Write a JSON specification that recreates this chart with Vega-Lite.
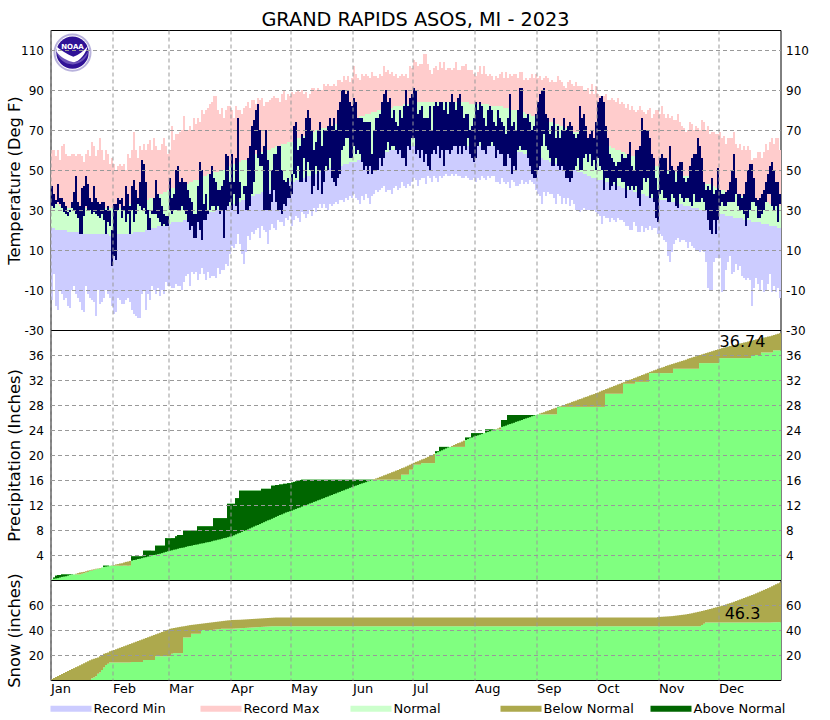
{"$schema":"https://vega.github.io/schema/vega-lite/v6.json","background":"white","padding":{"left":5.5,"top":10,"right":15,"bottom":0},"autosize":{"type":"pad"},
"config":{"view":{"stroke":"black","strokeWidth":1},"font":"DejaVu Sans"},
"bounds":"flush","spacing":0,
"datasets":{"daily":[
{"d":"2023-01-01","rn":-15,"rx":60,"nl":21,"nh":33,"l":32,"h":42,"pn":0.1,"po":0.1,"sn":0.8,"so":0},
{"d":"2023-01-02","rn":-2,"rx":60,"nl":21,"nh":33,"l":31,"h":38,"pn":0.2,"po":0.4,"sn":1.6,"so":0},
{"d":"2023-01-03","rn":-18,"rx":57,"nl":20,"nh":33,"l":33,"h":35,"pn":0.25,"po":0.7,"sn":2.4,"so":0},
{"d":"2023-01-04","rn":-20,"rx":60,"nl":20,"nh":33,"l":34,"h":43,"pn":0.3,"po":0.8,"sn":3.2,"so":0},
{"d":"2023-01-05","rn":-10,"rx":55,"nl":20,"nh":32,"l":33,"h":36,"pn":0.4,"po":0.8,"sn":4,"so":0},
{"d":"2023-01-06","rn":-12,"rx":62,"nl":20,"nh":32,"l":31,"h":36,"pn":0.5,"po":0.9,"sn":4.8,"so":0},
{"d":"2023-01-07","rn":-15,"rx":63,"nl":20,"nh":32,"l":29,"h":34,"pn":0.55,"po":0.9,"sn":5.6,"so":0},
{"d":"2023-01-08","rn":-14,"rx":58,"nl":20,"nh":32,"l":28,"h":32,"pn":0.6,"po":0.9,"sn":6.4,"so":0},
{"d":"2023-01-09","rn":-18,"rx":57,"nl":19,"nh":31,"l":27,"h":29,"pn":0.7,"po":0.9,"sn":7.2,"so":0},
{"d":"2023-01-10","rn":-19,"rx":57,"nl":19,"nh":31,"l":29,"h":30,"pn":0.8,"po":0.9,"sn":8,"so":0},
{"d":"2023-01-11","rn":-10,"rx":58,"nl":19,"nh":31,"l":31,"h":34,"pn":0.85,"po":0.9,"sn":8.8,"so":0},
{"d":"2023-01-12","rn":-8,"rx":58,"nl":19,"nh":31,"l":30,"h":39,"pn":0.9,"po":0.9,"sn":9.5,"so":0},
{"d":"2023-01-13","rn":-12,"rx":57,"nl":19,"nh":31,"l":28,"h":47,"pn":1,"po":0.9,"sn":10.3,"so":0},
{"d":"2023-01-14","rn":-14,"rx":58,"nl":19,"nh":31,"l":26,"h":34,"pn":1.1,"po":0.9,"sn":11,"so":0},
{"d":"2023-01-15","rn":-16,"rx":58,"nl":19,"nh":31,"l":18,"h":32,"pn":1.2,"po":0.9,"sn":11.8,"so":0},
{"d":"2023-01-16","rn":-20,"rx":57,"nl":19,"nh":31,"l":18,"h":41,"pn":1.25,"po":1,"sn":12.6,"so":0},
{"d":"2023-01-17","rn":-21,"rx":54,"nl":18,"nh":31,"l":27,"h":42,"pn":1.3,"po":1.1,"sn":13.4,"so":0},
{"d":"2023-01-18","rn":-8,"rx":58,"nl":18,"nh":31,"l":32,"h":47,"pn":1.4,"po":1.2,"sn":14.2,"so":0},
{"d":"2023-01-19","rn":-12,"rx":60,"nl":18,"nh":31,"l":30,"h":43,"pn":1.5,"po":1.3,"sn":15,"so":0},
{"d":"2023-01-20","rn":-14,"rx":57,"nl":18,"nh":31,"l":30,"h":36,"pn":1.6,"po":1.5,"sn":15.8,"so":0},
{"d":"2023-01-21","rn":-15,"rx":64,"nl":18,"nh":31,"l":28,"h":34,"pn":1.65,"po":1.5,"sn":16.5,"so":1.3},
{"d":"2023-01-22","rn":-16,"rx":62,"nl":18,"nh":31,"l":29,"h":42,"pn":1.7,"po":1.6,"sn":17,"so":2},
{"d":"2023-01-23","rn":-23,"rx":57,"nl":18,"nh":31,"l":28,"h":36,"pn":1.8,"po":1.7,"sn":17.5,"so":3},
{"d":"2023-01-24","rn":-10,"rx":60,"nl":18,"nh":31,"l":27,"h":34,"pn":1.85,"po":1.8,"sn":18,"so":5},
{"d":"2023-01-25","rn":-17,"rx":66,"nl":18,"nh":31,"l":26,"h":33,"pn":1.9,"po":1.8,"sn":19,"so":6},
{"d":"2023-01-26","rn":-16,"rx":60,"nl":18,"nh":31,"l":28,"h":34,"pn":2,"po":2,"sn":20,"so":8},
{"d":"2023-01-27","rn":-14,"rx":55,"nl":18,"nh":31,"l":25,"h":34,"pn":2.1,"po":2.3,"sn":21,"so":10},
{"d":"2023-01-28","rn":-10,"rx":60,"nl":18,"nh":31,"l":18,"h":30,"pn":2.15,"po":2.3,"sn":21.5,"so":12},
{"d":"2023-01-29","rn":-12,"rx":58,"nl":18,"nh":31,"l":24,"h":32,"pn":2.2,"po":2.3,"sn":22,"so":13},
{"d":"2023-01-30","rn":-14,"rx":53,"nl":17,"nh":31,"l":22,"h":30,"pn":2.3,"po":2.3,"sn":23,"so":14},
{"d":"2023-01-31","rn":-18,"rx":56,"nl":17,"nh":31,"l":2,"h":20,"pn":2.35,"po":2.3,"sn":23.5,"so":14},
{"d":"2023-02-01","rn":-22,"rx":53,"nl":17,"nh":31,"l":7,"h":33,"pn":2.4,"po":2.3,"sn":24,"so":14},
{"d":"2023-02-02","rn":-21,"rx":50,"nl":18,"nh":31,"l":5,"h":33,"pn":2.5,"po":2.3,"sn":24.6,"so":14},
{"d":"2023-02-03","rn":-14,"rx":52,"nl":18,"nh":31,"l":30,"h":36,"pn":2.55,"po":2.3,"sn":25.2,"so":14},
{"d":"2023-02-04","rn":-15,"rx":53,"nl":18,"nh":31,"l":33,"h":35,"pn":2.65,"po":2.3,"sn":25.8,"so":14},
{"d":"2023-02-05","rn":-17,"rx":52,"nl":18,"nh":32,"l":26,"h":36,"pn":2.7,"po":2.3,"sn":26.4,"so":14},
{"d":"2023-02-06","rn":-17,"rx":53,"nl":18,"nh":32,"l":30,"h":32,"pn":2.8,"po":2.3,"sn":27,"so":14},
{"d":"2023-02-07","rn":-15,"rx":50,"nl":18,"nh":32,"l":24,"h":42,"pn":2.9,"po":2.3,"sn":27.6,"so":14},
{"d":"2023-02-08","rn":-14,"rx":58,"nl":18,"nh":32,"l":28,"h":38,"pn":2.95,"po":2.3,"sn":28.2,"so":14},
{"d":"2023-02-09","rn":-16,"rx":56,"nl":18,"nh":33,"l":18,"h":32,"pn":3.05,"po":2.3,"sn":28.8,"so":14},
{"d":"2023-02-10","rn":-20,"rx":60,"nl":18,"nh":33,"l":30,"h":42,"pn":3.1,"po":3.8,"sn":29.4,"so":14.4},
{"d":"2023-02-11","rn":-22,"rx":69,"nl":19,"nh":33,"l":24,"h":45,"pn":3.2,"po":3.8,"sn":30,"so":14.4},
{"d":"2023-02-12","rn":-23,"rx":60,"nl":19,"nh":33,"l":28,"h":40,"pn":3.25,"po":3.8,"sn":30.6,"so":14.4},
{"d":"2023-02-13","rn":-24,"rx":56,"nl":19,"nh":34,"l":33,"h":36,"pn":3.35,"po":3.8,"sn":31.2,"so":14.4},
{"d":"2023-02-14","rn":-24,"rx":62,"nl":19,"nh":34,"l":32,"h":44,"pn":3.4,"po":3.8,"sn":31.8,"so":14.4},
{"d":"2023-02-15","rn":-12,"rx":60,"nl":19,"nh":34,"l":30,"h":55,"pn":3.5,"po":3.8,"sn":32.4,"so":14.4},
{"d":"2023-02-16","rn":-10,"rx":63,"nl":19,"nh":35,"l":31,"h":53,"pn":3.6,"po":4.7,"sn":33,"so":16},
{"d":"2023-02-17","rn":-20,"rx":60,"nl":20,"nh":35,"l":28,"h":44,"pn":3.65,"po":4.7,"sn":33.6,"so":16},
{"d":"2023-02-18","rn":-12,"rx":63,"nl":20,"nh":35,"l":20,"h":30,"pn":3.75,"po":4.7,"sn":34.2,"so":16},
{"d":"2023-02-19","rn":-15,"rx":65,"nl":20,"nh":36,"l":20,"h":26,"pn":3.8,"po":4.7,"sn":34.8,"so":16},
{"d":"2023-02-20","rn":-8,"rx":60,"nl":21,"nh":36,"l":28,"h":30,"pn":3.9,"po":4.7,"sn":35.4,"so":16},
{"d":"2023-02-21","rn":-10,"rx":66,"nl":21,"nh":36,"l":28,"h":36,"pn":4,"po":4.7,"sn":36,"so":16},
{"d":"2023-02-22","rn":-12,"rx":62,"nl":21,"nh":37,"l":28,"h":45,"pn":4.05,"po":5.5,"sn":36.6,"so":19},
{"d":"2023-02-23","rn":-9,"rx":60,"nl":22,"nh":37,"l":26,"h":38,"pn":4.15,"po":5.5,"sn":37.2,"so":19},
{"d":"2023-02-24","rn":-13,"rx":60,"nl":22,"nh":38,"l":24,"h":36,"pn":4.2,"po":5.5,"sn":37.8,"so":19},
{"d":"2023-02-25","rn":-10,"rx":63,"nl":22,"nh":38,"l":22,"h":32,"pn":4.3,"po":5.5,"sn":38.4,"so":19},
{"d":"2023-02-26","rn":-12,"rx":66,"nl":22,"nh":39,"l":23,"h":28,"pn":4.4,"po":5.5,"sn":39,"so":19},
{"d":"2023-02-27","rn":-6,"rx":62,"nl":23,"nh":39,"l":22,"h":27,"pn":4.5,"po":6.7,"sn":39.6,"so":19},
{"d":"2023-02-28","rn":-8,"rx":58,"nl":23,"nh":40,"l":22,"h":27,"pn":4.6,"po":6.7,"sn":40.2,"so":19},
{"d":"2023-03-01","rn":-8,"rx":60,"nl":23,"nh":41,"l":30,"h":46,"pn":4.7,"po":6.7,"sn":41,"so":19},
{"d":"2023-03-02","rn":-9,"rx":72,"nl":24,"nh":41,"l":28,"h":36,"pn":4.75,"po":6.7,"sn":41.3,"so":21},
{"d":"2023-03-03","rn":-9,"rx":65,"nl":24,"nh":41,"l":30,"h":38,"pn":4.85,"po":6.7,"sn":41.6,"so":21.5},
{"d":"2023-03-04","rn":-7,"rx":68,"nl":24,"nh":42,"l":30,"h":50,"pn":4.9,"po":7,"sn":41.9,"so":21.5},
{"d":"2023-03-05","rn":-8,"rx":68,"nl":24,"nh":42,"l":30,"h":52,"pn":5,"po":7.2,"sn":42.2,"so":21.5},
{"d":"2023-03-06","rn":-8,"rx":69,"nl":24,"nh":42,"l":30,"h":44,"pn":5.1,"po":7.2,"sn":42.5,"so":21.5},
{"d":"2023-03-07","rn":-10,"rx":70,"nl":24,"nh":42,"l":32,"h":46,"pn":5.15,"po":7.2,"sn":42.8,"so":21.5},
{"d":"2023-03-08","rn":-6,"rx":77,"nl":25,"nh":43,"l":30,"h":44,"pn":5.2,"po":7.9,"sn":43,"so":34},
{"d":"2023-03-09","rn":-3,"rx":70,"nl":25,"nh":43,"l":28,"h":44,"pn":5.3,"po":7.9,"sn":43.3,"so":34},
{"d":"2023-03-10","rn":-2,"rx":70,"nl":25,"nh":43,"l":24,"h":40,"pn":5.4,"po":7.9,"sn":43.6,"so":34},
{"d":"2023-03-11","rn":-8,"rx":72,"nl":26,"nh":44,"l":20,"h":36,"pn":5.45,"po":7.9,"sn":43.9,"so":34},
{"d":"2023-03-12","rn":-1,"rx":70,"nl":26,"nh":44,"l":22,"h":34,"pn":5.5,"po":7.9,"sn":44.1,"so":37},
{"d":"2023-03-13","rn":-2,"rx":76,"nl":26,"nh":45,"l":16,"h":28,"pn":5.6,"po":7.9,"sn":44.3,"so":37},
{"d":"2023-03-14","rn":-1,"rx":73,"nl":27,"nh":45,"l":16,"h":28,"pn":5.65,"po":7.9,"sn":44.5,"so":37},
{"d":"2023-03-15","rn":-5,"rx":76,"nl":27,"nh":45,"l":24,"h":42,"pn":5.7,"po":8.6,"sn":44.7,"so":37},
{"d":"2023-03-16","rn":-2,"rx":74,"nl":27,"nh":46,"l":20,"h":54,"pn":5.8,"po":8.6,"sn":44.9,"so":37},
{"d":"2023-03-17","rn":1,"rx":80,"nl":27,"nh":46,"l":15,"h":50,"pn":5.85,"po":8.6,"sn":45.1,"so":40},
{"d":"2023-03-18","rn":-2,"rx":78,"nl":28,"nh":47,"l":25,"h":33,"pn":5.9,"po":8.6,"sn":45.3,"so":40},
{"d":"2023-03-19","rn":-5,"rx":80,"nl":28,"nh":47,"l":25,"h":38,"pn":6,"po":8.6,"sn":45.5,"so":40},
{"d":"2023-03-20","rn":-1,"rx":81,"nl":28,"nh":48,"l":28,"h":30,"pn":6.05,"po":8.6,"sn":45.7,"so":40},
{"d":"2023-03-21","rn":-4,"rx":83,"nl":29,"nh":48,"l":30,"h":48,"pn":6.1,"po":8.6,"sn":45.9,"so":40},
{"d":"2023-03-22","rn":-3,"rx":84,"nl":29,"nh":48,"l":32,"h":52,"pn":6.2,"po":8.6,"sn":46.1,"so":40},
{"d":"2023-03-23","rn":-3,"rx":87,"nl":29,"nh":49,"l":32,"h":46,"pn":6.3,"po":9.9,"sn":46.3,"so":40.2},
{"d":"2023-03-24","rn":-4,"rx":87,"nl":30,"nh":49,"l":30,"h":44,"pn":6.35,"po":9.9,"sn":46.5,"so":40.4},
{"d":"2023-03-25","rn":1,"rx":80,"nl":30,"nh":49,"l":32,"h":40,"pn":6.45,"po":9.9,"sn":46.7,"so":40.6},
{"d":"2023-03-26","rn":-2,"rx":78,"nl":30,"nh":50,"l":28,"h":40,"pn":6.5,"po":9.9,"sn":46.9,"so":40.8},
{"d":"2023-03-27","rn":0,"rx":81,"nl":31,"nh":50,"l":30,"h":42,"pn":6.6,"po":9.9,"sn":47.1,"so":41},
{"d":"2023-03-28","rn":0,"rx":76,"nl":31,"nh":50,"l":16,"h":45,"pn":6.7,"po":9.9,"sn":47.3,"so":41},
{"d":"2023-03-29","rn":3,"rx":80,"nl":31,"nh":51,"l":30,"h":58,"pn":6.75,"po":9.9,"sn":47.5,"so":41},
{"d":"2023-03-30","rn":2,"rx":82,"nl":32,"nh":51,"l":32,"h":57,"pn":6.85,"po":12.2,"sn":47.7,"so":41},
{"d":"2023-03-31","rn":8,"rx":82,"nl":32,"nh":52,"l":34,"h":44,"pn":6.95,"po":12.2,"sn":47.8,"so":41},
{"d":"2023-04-01","rn":12,"rx":80,"nl":33,"nh":52,"l":30,"h":58,"pn":7,"po":12.2,"sn":48,"so":41},
{"d":"2023-04-02","rn":11,"rx":76,"nl":33,"nh":53,"l":38,"h":44,"pn":7.15,"po":12.2,"sn":48.05,"so":41.1},
{"d":"2023-04-03","rn":13,"rx":82,"nl":34,"nh":53,"l":32,"h":56,"pn":7.3,"po":13.1,"sn":48.1,"so":41.2},
{"d":"2023-04-04","rn":18,"rx":80,"nl":34,"nh":54,"l":28,"h":76,"pn":7.45,"po":13.1,"sn":48.15,"so":41.3},
{"d":"2023-04-05","rn":13,"rx":80,"nl":34,"nh":54,"l":36,"h":44,"pn":7.55,"po":14.3,"sn":48.2,"so":41.4},
{"d":"2023-04-06","rn":8,"rx":78,"nl":35,"nh":55,"l":40,"h":40,"pn":7.7,"po":14.3,"sn":48.3,"so":41.5},
{"d":"2023-04-07","rn":3,"rx":81,"nl":35,"nh":55,"l":38,"h":42,"pn":7.85,"po":14.3,"sn":48.4,"so":41.6},
{"d":"2023-04-08","rn":9,"rx":82,"nl":36,"nh":55,"l":30,"h":42,"pn":7.95,"po":14.3,"sn":48.5,"so":41.7},
{"d":"2023-04-09","rn":17,"rx":84,"nl":36,"nh":56,"l":30,"h":56,"pn":8.1,"po":14.3,"sn":48.6,"so":41.8},
{"d":"2023-04-10","rn":15,"rx":81,"nl":36,"nh":56,"l":32,"h":62,"pn":8.25,"po":14.3,"sn":48.7,"so":41.9},
{"d":"2023-04-11","rn":19,"rx":85,"nl":37,"nh":57,"l":38,"h":72,"pn":8.4,"po":14.3,"sn":48.8,"so":42},
{"d":"2023-04-12","rn":18,"rx":85,"nl":37,"nh":57,"l":44,"h":75,"pn":8.55,"po":14.3,"sn":48.9,"so":42.1},
{"d":"2023-04-13","rn":20,"rx":83,"nl":38,"nh":58,"l":60,"h":80,"pn":8.7,"po":14.3,"sn":49,"so":42.2},
{"d":"2023-04-14","rn":21,"rx":86,"nl":38,"nh":58,"l":56,"h":83,"pn":8.8,"po":14.3,"sn":49.1,"so":42.3},
{"d":"2023-04-15","rn":16,"rx":85,"nl":38,"nh":59,"l":52,"h":70,"pn":8.95,"po":14.3,"sn":49.2,"so":42.4},
{"d":"2023-04-16","rn":22,"rx":86,"nl":39,"nh":59,"l":52,"h":58,"pn":9.1,"po":14.6,"sn":49.3,"so":42.5},
{"d":"2023-04-17","rn":20,"rx":82,"nl":39,"nh":59,"l":30,"h":62,"pn":9.25,"po":14.6,"sn":49.4,"so":42.6},
{"d":"2023-04-18","rn":19,"rx":84,"nl":40,"nh":60,"l":30,"h":70,"pn":9.4,"po":14.6,"sn":49.5,"so":42.7},
{"d":"2023-04-19","rn":13,"rx":84,"nl":40,"nh":60,"l":30,"h":55,"pn":9.55,"po":14.6,"sn":49.6,"so":42.8},
{"d":"2023-04-20","rn":20,"rx":85,"nl":40,"nh":60,"l":30,"h":38,"pn":9.65,"po":14.6,"sn":49.7,"so":42.9},
{"d":"2023-04-21","rn":23,"rx":86,"nl":41,"nh":61,"l":34,"h":50,"pn":9.8,"po":15.1,"sn":49.8,"so":43},
{"d":"2023-04-22","rn":21,"rx":87,"nl":41,"nh":61,"l":40,"h":58,"pn":9.95,"po":15.1,"sn":49.9,"so":43},
{"d":"2023-04-23","rn":20,"rx":86,"nl":41,"nh":62,"l":34,"h":58,"pn":10.1,"po":15.2,"sn":50,"so":43},
{"d":"2023-04-24","rn":25,"rx":86,"nl":42,"nh":62,"l":30,"h":62,"pn":10.25,"po":15.2,"sn":50,"so":43},
{"d":"2023-04-25","rn":24,"rx":84,"nl":42,"nh":62,"l":30,"h":62,"pn":10.4,"po":15.3,"sn":50,"so":43},
{"d":"2023-04-26","rn":24,"rx":88,"nl":42,"nh":63,"l":28,"h":50,"pn":10.5,"po":15.3,"sn":50,"so":43},
{"d":"2023-04-27","rn":22,"rx":90,"nl":43,"nh":63,"l":33,"h":45,"pn":10.65,"po":15.4,"sn":50,"so":43},
{"d":"2023-04-28","rn":26,"rx":85,"nl":43,"nh":63,"l":32,"h":44,"pn":10.8,"po":15.4,"sn":50,"so":43},
{"d":"2023-04-29","rn":25,"rx":88,"nl":43,"nh":64,"l":36,"h":46,"pn":10.9,"po":15.5,"sn":50,"so":43},
{"d":"2023-04-30","rn":27,"rx":87,"nl":44,"nh":64,"l":36,"h":42,"pn":11,"po":15.5,"sn":50,"so":43},
{"d":"2023-05-01","rn":22,"rx":89,"nl":44,"nh":64,"l":38,"h":48,"pn":11.1,"po":15.6,"sn":50,"so":43},
{"d":"2023-05-02","rn":25,"rx":88,"nl":44,"nh":65,"l":48,"h":72,"pn":11.25,"po":15.7,"sn":50,"so":43},
{"d":"2023-05-03","rn":27,"rx":89,"nl":45,"nh":65,"l":46,"h":74,"pn":11.35,"po":15.8,"sn":50,"so":43},
{"d":"2023-05-04","rn":26,"rx":90,"nl":45,"nh":66,"l":52,"h":60,"pn":11.5,"po":15.9,"sn":50,"so":43},
{"d":"2023-05-05","rn":24,"rx":89,"nl":46,"nh":66,"l":44,"h":62,"pn":11.6,"po":16,"sn":50,"so":43},
{"d":"2023-05-06","rn":29,"rx":90,"nl":46,"nh":67,"l":44,"h":68,"pn":11.75,"po":16.05,"sn":50,"so":43},
{"d":"2023-05-07","rn":28,"rx":88,"nl":46,"nh":67,"l":56,"h":66,"pn":11.85,"po":16.05,"sn":50,"so":43},
{"d":"2023-05-08","rn":26,"rx":89,"nl":47,"nh":67,"l":44,"h":76,"pn":12,"po":16.05,"sn":50,"so":43},
{"d":"2023-05-09","rn":28,"rx":86,"nl":47,"nh":68,"l":54,"h":80,"pn":12.1,"po":16.05,"sn":50,"so":43},
{"d":"2023-05-10","rn":30,"rx":88,"nl":47,"nh":68,"l":50,"h":76,"pn":12.25,"po":16.05,"sn":50,"so":43},
{"d":"2023-05-11","rn":27,"rx":91,"nl":48,"nh":69,"l":38,"h":70,"pn":12.35,"po":16.05,"sn":50,"so":43},
{"d":"2023-05-12","rn":31,"rx":91,"nl":48,"nh":69,"l":42,"h":60,"pn":12.5,"po":16.05,"sn":50,"so":43},
{"d":"2023-05-13","rn":29,"rx":90,"nl":48,"nh":70,"l":52,"h":64,"pn":12.6,"po":16.05,"sn":50,"so":43},
{"d":"2023-05-14","rn":31,"rx":91,"nl":49,"nh":70,"l":40,"h":70,"pn":12.75,"po":16.05,"sn":50,"so":43},
{"d":"2023-05-15","rn":33,"rx":90,"nl":49,"nh":70,"l":50,"h":74,"pn":12.85,"po":16.05,"sn":50,"so":43},
{"d":"2023-05-16","rn":31,"rx":90,"nl":49,"nh":71,"l":38,"h":62,"pn":13,"po":16.05,"sn":50,"so":43},
{"d":"2023-05-17","rn":33,"rx":93,"nl":50,"nh":71,"l":44,"h":70,"pn":13.1,"po":16.05,"sn":50,"so":43},
{"d":"2023-05-18","rn":31,"rx":92,"nl":50,"nh":71,"l":52,"h":70,"pn":13.25,"po":16.05,"sn":50,"so":43},
{"d":"2023-05-19","rn":30,"rx":93,"nl":50,"nh":72,"l":50,"h":72,"pn":13.35,"po":16.05,"sn":50,"so":43},
{"d":"2023-05-20","rn":33,"rx":92,"nl":51,"nh":72,"l":56,"h":76,"pn":13.5,"po":16.05,"sn":50,"so":43},
{"d":"2023-05-21","rn":32,"rx":92,"nl":51,"nh":72,"l":46,"h":72,"pn":13.6,"po":16.05,"sn":50,"so":43},
{"d":"2023-05-22","rn":33,"rx":93,"nl":51,"nh":73,"l":44,"h":76,"pn":13.75,"po":16.05,"sn":50,"so":43},
{"d":"2023-05-23","rn":34,"rx":92,"nl":52,"nh":73,"l":42,"h":70,"pn":13.85,"po":16.05,"sn":50,"so":43},
{"d":"2023-05-24","rn":33,"rx":95,"nl":52,"nh":73,"l":46,"h":80,"pn":14,"po":16.05,"sn":50,"so":43},
{"d":"2023-05-25","rn":35,"rx":95,"nl":52,"nh":74,"l":48,"h":84,"pn":14.1,"po":16.05,"sn":50,"so":43},
{"d":"2023-05-26","rn":35,"rx":94,"nl":52,"nh":74,"l":60,"h":90,"pn":14.25,"po":16.05,"sn":50,"so":43},
{"d":"2023-05-27","rn":34,"rx":97,"nl":53,"nh":74,"l":62,"h":90,"pn":14.35,"po":16.05,"sn":50,"so":43},
{"d":"2023-05-28","rn":36,"rx":95,"nl":53,"nh":74,"l":66,"h":88,"pn":14.5,"po":16.05,"sn":50,"so":43},
{"d":"2023-05-29","rn":35,"rx":97,"nl":53,"nh":75,"l":66,"h":90,"pn":14.6,"po":16.05,"sn":50,"so":43},
{"d":"2023-05-30","rn":37,"rx":94,"nl":54,"nh":75,"l":56,"h":84,"pn":14.75,"po":16.05,"sn":50,"so":43},
{"d":"2023-05-31","rn":36,"rx":96,"nl":54,"nh":75,"l":56,"h":82,"pn":14.85,"po":16.05,"sn":50,"so":43},
{"d":"2023-06-01","rn":38,"rx":102,"nl":54,"nh":76,"l":62,"h":86,"pn":15,"po":16.05,"sn":50,"so":43},
{"d":"2023-06-02","rn":36,"rx":98,"nl":54,"nh":76,"l":58,"h":84,"pn":15.1,"po":16.05,"sn":50,"so":43},
{"d":"2023-06-03","rn":35,"rx":96,"nl":55,"nh":76,"l":60,"h":76,"pn":15.2,"po":16.05,"sn":50,"so":43},
{"d":"2023-06-04","rn":33,"rx":95,"nl":55,"nh":77,"l":58,"h":76,"pn":15.35,"po":16.05,"sn":50,"so":43},
{"d":"2023-06-05","rn":37,"rx":98,"nl":55,"nh":77,"l":54,"h":76,"pn":15.45,"po":16.05,"sn":50,"so":43},
{"d":"2023-06-06","rn":35,"rx":97,"nl":56,"nh":77,"l":50,"h":74,"pn":15.55,"po":16.05,"sn":50,"so":43},
{"d":"2023-06-07","rn":38,"rx":98,"nl":56,"nh":78,"l":52,"h":74,"pn":15.65,"po":16.05,"sn":50,"so":43},
{"d":"2023-06-08","rn":36,"rx":97,"nl":56,"nh":78,"l":48,"h":74,"pn":15.8,"po":16.05,"sn":50,"so":43},
{"d":"2023-06-09","rn":33,"rx":96,"nl":57,"nh":78,"l":52,"h":74,"pn":15.9,"po":16.05,"sn":50,"so":43},
{"d":"2023-06-10","rn":37,"rx":99,"nl":57,"nh":79,"l":48,"h":58,"pn":16,"po":16.05,"sn":50,"so":43},
{"d":"2023-06-11","rn":38,"rx":97,"nl":57,"nh":79,"l":50,"h":70,"pn":16.15,"po":16.05,"sn":50,"so":43},
{"d":"2023-06-12","rn":40,"rx":97,"nl":58,"nh":79,"l":50,"h":76,"pn":16.25,"po":16.05,"sn":50,"so":43},
{"d":"2023-06-13","rn":39,"rx":96,"nl":58,"nh":80,"l":50,"h":76,"pn":16.35,"po":16.05,"sn":50,"so":43},
{"d":"2023-06-14","rn":40,"rx":98,"nl":58,"nh":80,"l":56,"h":78,"pn":16.5,"po":16.05,"sn":50,"so":43},
{"d":"2023-06-15","rn":41,"rx":97,"nl":58,"nh":80,"l":52,"h":84,"pn":16.6,"po":16.05,"sn":50,"so":43},
{"d":"2023-06-16","rn":42,"rx":102,"nl":59,"nh":80,"l":56,"h":88,"pn":16.75,"po":16.05,"sn":50,"so":43},
{"d":"2023-06-17","rn":39,"rx":99,"nl":59,"nh":81,"l":60,"h":90,"pn":16.85,"po":16.05,"sn":50,"so":43},
{"d":"2023-06-18","rn":40,"rx":100,"nl":59,"nh":81,"l":64,"h":84,"pn":17,"po":16.05,"sn":50,"so":43},
{"d":"2023-06-19","rn":40,"rx":98,"nl":60,"nh":81,"l":60,"h":86,"pn":17.1,"po":16.05,"sn":50,"so":43},
{"d":"2023-06-20","rn":38,"rx":99,"nl":60,"nh":81,"l":62,"h":76,"pn":17.25,"po":16.05,"sn":50,"so":43},
{"d":"2023-06-21","rn":41,"rx":97,"nl":60,"nh":82,"l":62,"h":80,"pn":17.35,"po":16.05,"sn":50,"so":43},
{"d":"2023-06-22","rn":42,"rx":98,"nl":60,"nh":82,"l":60,"h":74,"pn":17.5,"po":16.05,"sn":50,"so":43},
{"d":"2023-06-23","rn":40,"rx":96,"nl":61,"nh":82,"l":58,"h":72,"pn":17.6,"po":16.05,"sn":50,"so":43},
{"d":"2023-06-24","rn":41,"rx":97,"nl":61,"nh":82,"l":60,"h":80,"pn":17.75,"po":16.05,"sn":50,"so":43},
{"d":"2023-06-25","rn":44,"rx":98,"nl":61,"nh":82,"l":56,"h":76,"pn":17.9,"po":16.85,"sn":50,"so":43},
{"d":"2023-06-26","rn":42,"rx":97,"nl":61,"nh":83,"l":56,"h":82,"pn":18,"po":16.85,"sn":50,"so":43},
{"d":"2023-06-27","rn":41,"rx":98,"nl":62,"nh":83,"l":52,"h":90,"pn":18.15,"po":16.85,"sn":50,"so":43},
{"d":"2023-06-28","rn":43,"rx":96,"nl":62,"nh":83,"l":62,"h":82,"pn":18.3,"po":16.85,"sn":50,"so":43},
{"d":"2023-06-29","rn":42,"rx":102,"nl":62,"nh":83,"l":60,"h":86,"pn":18.45,"po":17.65,"sn":50,"so":43},
{"d":"2023-06-30","rn":44,"rx":101,"nl":62,"nh":83,"l":66,"h":88,"pn":18.6,"po":17.65,"sn":50,"so":43},
{"d":"2023-07-01","rn":46,"rx":105,"nl":62,"nh":83,"l":66,"h":91,"pn":18.75,"po":18.45,"sn":50,"so":43},
{"d":"2023-07-02","rn":45,"rx":104,"nl":62,"nh":83,"l":58,"h":90,"pn":18.9,"po":18.45,"sn":50,"so":43},
{"d":"2023-07-03","rn":42,"rx":102,"nl":62,"nh":84,"l":60,"h":78,"pn":19,"po":18.45,"sn":50,"so":43},
{"d":"2023-07-04","rn":45,"rx":103,"nl":62,"nh":84,"l":56,"h":80,"pn":19.15,"po":18.45,"sn":50,"so":43},
{"d":"2023-07-05","rn":46,"rx":103,"nl":62,"nh":84,"l":60,"h":82,"pn":19.3,"po":18.7,"sn":50,"so":43},
{"d":"2023-07-06","rn":46,"rx":108,"nl":62,"nh":84,"l":54,"h":76,"pn":19.4,"po":18.7,"sn":50,"so":43},
{"d":"2023-07-07","rn":43,"rx":108,"nl":62,"nh":84,"l":58,"h":76,"pn":19.55,"po":18.7,"sn":50,"so":43},
{"d":"2023-07-08","rn":47,"rx":103,"nl":62,"nh":84,"l":52,"h":76,"pn":19.7,"po":18.7,"sn":50,"so":43},
{"d":"2023-07-09","rn":46,"rx":100,"nl":62,"nh":84,"l":50,"h":82,"pn":19.85,"po":18.7,"sn":50,"so":43},
{"d":"2023-07-10","rn":44,"rx":98,"nl":62,"nh":84,"l":58,"h":70,"pn":20,"po":18.7,"sn":50,"so":43},
{"d":"2023-07-11","rn":47,"rx":101,"nl":62,"nh":84,"l":60,"h":82,"pn":20.15,"po":18.7,"sn":50,"so":43},
{"d":"2023-07-12","rn":46,"rx":102,"nl":62,"nh":84,"l":58,"h":84,"pn":20.3,"po":20.6,"sn":50,"so":43},
{"d":"2023-07-13","rn":44,"rx":100,"nl":62,"nh":84,"l":62,"h":82,"pn":20.45,"po":20.6,"sn":50,"so":43},
{"d":"2023-07-14","rn":47,"rx":104,"nl":62,"nh":84,"l":56,"h":84,"pn":20.6,"po":21.3,"sn":50,"so":43},
{"d":"2023-07-15","rn":46,"rx":101,"nl":62,"nh":84,"l":60,"h":84,"pn":20.75,"po":21.3,"sn":50,"so":43},
{"d":"2023-07-16","rn":47,"rx":104,"nl":62,"nh":84,"l":52,"h":80,"pn":20.9,"po":21.3,"sn":50,"so":43},
{"d":"2023-07-17","rn":48,"rx":100,"nl":62,"nh":84,"l":60,"h":84,"pn":21.05,"po":21.3,"sn":50,"so":43},
{"d":"2023-07-18","rn":47,"rx":101,"nl":62,"nh":84,"l":60,"h":78,"pn":21.2,"po":21.3,"sn":50,"so":43},
{"d":"2023-07-19","rn":47,"rx":101,"nl":62,"nh":84,"l":58,"h":84,"pn":21.3,"po":21.3,"sn":50,"so":43},
{"d":"2023-07-20","rn":48,"rx":100,"nl":62,"nh":84,"l":60,"h":88,"pn":21.45,"po":21.3,"sn":50,"so":43},
{"d":"2023-07-21","rn":47,"rx":101,"nl":62,"nh":84,"l":62,"h":84,"pn":21.6,"po":21.3,"sn":50,"so":43},
{"d":"2023-07-22","rn":48,"rx":104,"nl":62,"nh":84,"l":62,"h":80,"pn":21.75,"po":21.3,"sn":50,"so":43},
{"d":"2023-07-23","rn":47,"rx":100,"nl":62,"nh":84,"l":58,"h":86,"pn":21.9,"po":21.3,"sn":50,"so":43},
{"d":"2023-07-24","rn":47,"rx":100,"nl":62,"nh":84,"l":62,"h":88,"pn":22,"po":21.3,"sn":50,"so":43},
{"d":"2023-07-25","rn":46,"rx":102,"nl":62,"nh":84,"l":58,"h":82,"pn":22.15,"po":21.3,"sn":50,"so":43},
{"d":"2023-07-26","rn":46,"rx":102,"nl":62,"nh":84,"l":62,"h":76,"pn":22.3,"po":21.3,"sn":50,"so":43},
{"d":"2023-07-27","rn":47,"rx":103,"nl":62,"nh":84,"l":60,"h":78,"pn":22.4,"po":22.8,"sn":50,"so":43},
{"d":"2023-07-28","rn":46,"rx":100,"nl":62,"nh":84,"l":66,"h":78,"pn":22.55,"po":22.8,"sn":50,"so":43},
{"d":"2023-07-29","rn":45,"rx":100,"nl":62,"nh":83,"l":58,"h":70,"pn":22.7,"po":22.8,"sn":50,"so":43},
{"d":"2023-07-30","rn":45,"rx":100,"nl":62,"nh":83,"l":56,"h":72,"pn":22.8,"po":23.5,"sn":50,"so":43},
{"d":"2023-07-31","rn":46,"rx":98,"nl":62,"nh":83,"l":54,"h":76,"pn":22.95,"po":23.5,"sn":50,"so":43},
{"d":"2023-08-01","rn":44,"rx":97,"nl":62,"nh":83,"l":56,"h":84,"pn":23.05,"po":23.5,"sn":50,"so":43},
{"d":"2023-08-02","rn":46,"rx":99,"nl":62,"nh":83,"l":62,"h":80,"pn":23.15,"po":23.5,"sn":50,"so":43},
{"d":"2023-08-03","rn":45,"rx":102,"nl":62,"nh":83,"l":64,"h":84,"pn":23.25,"po":23.5,"sn":50,"so":43},
{"d":"2023-08-04","rn":47,"rx":98,"nl":62,"nh":83,"l":60,"h":82,"pn":23.35,"po":23.5,"sn":50,"so":43},
{"d":"2023-08-05","rn":46,"rx":102,"nl":62,"nh":83,"l":60,"h":76,"pn":23.5,"po":23.5,"sn":50,"so":43},
{"d":"2023-08-06","rn":45,"rx":98,"nl":62,"nh":83,"l":58,"h":72,"pn":23.6,"po":24.1,"sn":50,"so":43},
{"d":"2023-08-07","rn":47,"rx":97,"nl":62,"nh":83,"l":62,"h":80,"pn":23.7,"po":24.1,"sn":50,"so":43},
{"d":"2023-08-08","rn":46,"rx":98,"nl":62,"nh":82,"l":62,"h":82,"pn":23.8,"po":24.1,"sn":50,"so":43},
{"d":"2023-08-09","rn":47,"rx":97,"nl":62,"nh":82,"l":64,"h":80,"pn":23.95,"po":24.1,"sn":50,"so":43},
{"d":"2023-08-10","rn":47,"rx":95,"nl":62,"nh":82,"l":62,"h":74,"pn":24.05,"po":24.1,"sn":50,"so":43},
{"d":"2023-08-11","rn":44,"rx":97,"nl":61,"nh":82,"l":56,"h":72,"pn":24.15,"po":24.1,"sn":50,"so":43},
{"d":"2023-08-12","rn":44,"rx":96,"nl":61,"nh":82,"l":60,"h":80,"pn":24.25,"po":24.1,"sn":50,"so":43},
{"d":"2023-08-13","rn":43,"rx":98,"nl":61,"nh":82,"l":58,"h":76,"pn":24.4,"po":24.1,"sn":50,"so":43},
{"d":"2023-08-14","rn":46,"rx":99,"nl":61,"nh":82,"l":58,"h":74,"pn":24.5,"po":25.6,"sn":50,"so":43},
{"d":"2023-08-15","rn":44,"rx":96,"nl":61,"nh":81,"l":52,"h":72,"pn":24.6,"po":25.6,"sn":50,"so":43},
{"d":"2023-08-16","rn":43,"rx":99,"nl":60,"nh":81,"l":52,"h":68,"pn":24.7,"po":25.6,"sn":50,"so":43},
{"d":"2023-08-17","rn":44,"rx":96,"nl":60,"nh":81,"l":58,"h":76,"pn":24.85,"po":26.4,"sn":50,"so":43},
{"d":"2023-08-18","rn":41,"rx":98,"nl":60,"nh":81,"l":56,"h":88,"pn":24.95,"po":26.4,"sn":50,"so":43},
{"d":"2023-08-19","rn":45,"rx":97,"nl":60,"nh":80,"l":48,"h":72,"pn":25.05,"po":26.4,"sn":50,"so":43},
{"d":"2023-08-20","rn":44,"rx":98,"nl":60,"nh":80,"l":52,"h":74,"pn":25.15,"po":26.4,"sn":50,"so":43},
{"d":"2023-08-21","rn":42,"rx":98,"nl":59,"nh":80,"l":50,"h":70,"pn":25.3,"po":26.4,"sn":50,"so":43},
{"d":"2023-08-22","rn":42,"rx":96,"nl":59,"nh":79,"l":60,"h":80,"pn":25.4,"po":26.4,"sn":50,"so":43},
{"d":"2023-08-23","rn":43,"rx":99,"nl":59,"nh":79,"l":62,"h":91,"pn":25.5,"po":26.4,"sn":50,"so":43},
{"d":"2023-08-24","rn":45,"rx":99,"nl":59,"nh":79,"l":60,"h":91,"pn":25.6,"po":26.4,"sn":50,"so":43},
{"d":"2023-08-25","rn":43,"rx":95,"nl":58,"nh":79,"l":60,"h":76,"pn":25.75,"po":26.4,"sn":50,"so":43},
{"d":"2023-08-26","rn":44,"rx":96,"nl":58,"nh":78,"l":60,"h":76,"pn":25.85,"po":26.4,"sn":50,"so":43},
{"d":"2023-08-27","rn":43,"rx":95,"nl":58,"nh":78,"l":56,"h":78,"pn":25.95,"po":26.4,"sn":50,"so":43},
{"d":"2023-08-28","rn":45,"rx":96,"nl":58,"nh":78,"l":52,"h":74,"pn":26.05,"po":26.4,"sn":50,"so":43},
{"d":"2023-08-29","rn":44,"rx":98,"nl":57,"nh":77,"l":48,"h":70,"pn":26.2,"po":26.4,"sn":50,"so":43},
{"d":"2023-08-30","rn":43,"rx":96,"nl":57,"nh":77,"l":46,"h":72,"pn":26.3,"po":26.4,"sn":50,"so":43},
{"d":"2023-08-31","rn":40,"rx":98,"nl":57,"nh":77,"l":46,"h":78,"pn":26.4,"po":26.4,"sn":50,"so":43},
{"d":"2023-09-01","rn":38,"rx":96,"nl":57,"nh":76,"l":50,"h":84,"pn":26.5,"po":26.5,"sn":50,"so":43},
{"d":"2023-09-02","rn":37,"rx":97,"nl":56,"nh":76,"l":52,"h":88,"pn":26.65,"po":26.5,"sn":50,"so":43},
{"d":"2023-09-03","rn":33,"rx":95,"nl":56,"nh":76,"l":62,"h":90,"pn":26.75,"po":26.5,"sn":50,"so":43},
{"d":"2023-09-04","rn":39,"rx":96,"nl":55,"nh":75,"l":68,"h":91,"pn":26.85,"po":26.5,"sn":50,"so":43},
{"d":"2023-09-05","rn":37,"rx":97,"nl":55,"nh":75,"l":62,"h":78,"pn":27,"po":26.5,"sn":50,"so":43},
{"d":"2023-09-06","rn":39,"rx":96,"nl":55,"nh":74,"l":60,"h":76,"pn":27.1,"po":26.5,"sn":50,"so":43},
{"d":"2023-09-07","rn":38,"rx":94,"nl":54,"nh":74,"l":56,"h":68,"pn":27.2,"po":26.5,"sn":50,"so":43},
{"d":"2023-09-08","rn":38,"rx":95,"nl":54,"nh":74,"l":52,"h":72,"pn":27.35,"po":26.5,"sn":50,"so":43},
{"d":"2023-09-09","rn":36,"rx":94,"nl":54,"nh":73,"l":52,"h":76,"pn":27.45,"po":26.5,"sn":50,"so":43},
{"d":"2023-09-10","rn":33,"rx":94,"nl":53,"nh":73,"l":56,"h":66,"pn":27.55,"po":26.5,"sn":50,"so":43},
{"d":"2023-09-11","rn":38,"rx":97,"nl":53,"nh":73,"l":52,"h":72,"pn":27.65,"po":27.7,"sn":50,"so":43},
{"d":"2023-09-12","rn":37,"rx":95,"nl":53,"nh":72,"l":50,"h":66,"pn":27.8,"po":27.7,"sn":50,"so":43},
{"d":"2023-09-13","rn":33,"rx":94,"nl":52,"nh":72,"l":52,"h":70,"pn":27.9,"po":27.7,"sn":50,"so":43},
{"d":"2023-09-14","rn":36,"rx":92,"nl":52,"nh":71,"l":50,"h":76,"pn":28,"po":27.7,"sn":50,"so":43},
{"d":"2023-09-15","rn":33,"rx":91,"nl":52,"nh":71,"l":46,"h":70,"pn":28.15,"po":27.7,"sn":50,"so":43},
{"d":"2023-09-16","rn":36,"rx":94,"nl":51,"nh":71,"l":46,"h":72,"pn":28.25,"po":27.7,"sn":50,"so":43},
{"d":"2023-09-17","rn":32,"rx":95,"nl":51,"nh":70,"l":44,"h":74,"pn":28.35,"po":27.7,"sn":50,"so":43},
{"d":"2023-09-18","rn":35,"rx":93,"nl":50,"nh":70,"l":46,"h":72,"pn":28.5,"po":27.7,"sn":50,"so":43},
{"d":"2023-09-19","rn":33,"rx":92,"nl":50,"nh":69,"l":50,"h":68,"pn":28.6,"po":27.7,"sn":50,"so":43},
{"d":"2023-09-20","rn":30,"rx":94,"nl":50,"nh":69,"l":52,"h":66,"pn":28.7,"po":27.7,"sn":50,"so":43},
{"d":"2023-09-21","rn":30,"rx":92,"nl":49,"nh":69,"l":56,"h":68,"pn":28.85,"po":27.7,"sn":50,"so":43},
{"d":"2023-09-22","rn":29,"rx":92,"nl":49,"nh":68,"l":50,"h":82,"pn":28.95,"po":27.7,"sn":50,"so":43},
{"d":"2023-09-23","rn":30,"rx":92,"nl":49,"nh":68,"l":50,"h":76,"pn":29.05,"po":27.7,"sn":50,"so":43},
{"d":"2023-09-24","rn":31,"rx":90,"nl":48,"nh":67,"l":56,"h":78,"pn":29.2,"po":27.7,"sn":50,"so":43},
{"d":"2023-09-25","rn":30,"rx":90,"nl":48,"nh":67,"l":58,"h":72,"pn":29.3,"po":27.7,"sn":50,"so":43},
{"d":"2023-09-26","rn":30,"rx":91,"nl":47,"nh":66,"l":54,"h":66,"pn":29.4,"po":27.7,"sn":50,"so":43},
{"d":"2023-09-27","rn":30,"rx":88,"nl":47,"nh":66,"l":58,"h":68,"pn":29.55,"po":27.7,"sn":50,"so":43},
{"d":"2023-09-28","rn":30,"rx":93,"nl":46,"nh":65,"l":52,"h":70,"pn":29.65,"po":27.7,"sn":50,"so":43},
{"d":"2023-09-29","rn":30,"rx":88,"nl":46,"nh":65,"l":55,"h":66,"pn":29.75,"po":27.7,"sn":50,"so":43},
{"d":"2023-09-30","rn":29,"rx":92,"nl":46,"nh":64,"l":50,"h":74,"pn":29.9,"po":27.7,"sn":50,"so":43},
{"d":"2023-10-01","rn":28,"rx":88,"nl":45,"nh":64,"l":56,"h":84,"pn":30,"po":27.7,"sn":50,"so":43},
{"d":"2023-10-02","rn":27,"rx":87,"nl":45,"nh":64,"l":52,"h":86,"pn":30.15,"po":27.7,"sn":50,"so":43},
{"d":"2023-10-03","rn":23,"rx":87,"nl":45,"nh":63,"l":50,"h":87,"pn":30.3,"po":27.7,"sn":50,"so":43},
{"d":"2023-10-04","rn":27,"rx":87,"nl":44,"nh":63,"l":40,"h":84,"pn":30.4,"po":27.7,"sn":50,"so":43},
{"d":"2023-10-05","rn":26,"rx":88,"nl":44,"nh":62,"l":46,"h":72,"pn":30.55,"po":29.8,"sn":50,"so":43},
{"d":"2023-10-06","rn":26,"rx":85,"nl":44,"nh":62,"l":46,"h":66,"pn":30.65,"po":29.8,"sn":50,"so":43},
{"d":"2023-10-07","rn":24,"rx":85,"nl":43,"nh":62,"l":40,"h":58,"pn":30.8,"po":29.8,"sn":50,"so":43},
{"d":"2023-10-08","rn":26,"rx":86,"nl":43,"nh":61,"l":42,"h":56,"pn":30.9,"po":29.8,"sn":50,"so":43},
{"d":"2023-10-09","rn":25,"rx":85,"nl":43,"nh":61,"l":44,"h":54,"pn":31.05,"po":29.8,"sn":50,"so":43},
{"d":"2023-10-10","rn":24,"rx":84,"nl":42,"nh":60,"l":40,"h":52,"pn":31.15,"po":29.8,"sn":50,"so":43},
{"d":"2023-10-11","rn":26,"rx":86,"nl":42,"nh":60,"l":46,"h":54,"pn":31.3,"po":29.8,"sn":50,"so":43},
{"d":"2023-10-12","rn":25,"rx":83,"nl":42,"nh":60,"l":46,"h":54,"pn":31.4,"po":29.8,"sn":50,"so":43},
{"d":"2023-10-13","rn":25,"rx":84,"nl":41,"nh":59,"l":44,"h":58,"pn":31.55,"po":29.8,"sn":50,"so":43},
{"d":"2023-10-14","rn":24,"rx":83,"nl":41,"nh":59,"l":44,"h":56,"pn":31.65,"po":31.4,"sn":50,"so":43},
{"d":"2023-10-15","rn":22,"rx":81,"nl":41,"nh":58,"l":36,"h":56,"pn":31.8,"po":31.4,"sn":50,"so":43},
{"d":"2023-10-16","rn":22,"rx":83,"nl":40,"nh":58,"l":42,"h":58,"pn":31.9,"po":31.4,"sn":50,"so":43},
{"d":"2023-10-17","rn":20,"rx":80,"nl":40,"nh":58,"l":40,"h":64,"pn":32.05,"po":31.4,"sn":50,"so":43},
{"d":"2023-10-18","rn":20,"rx":82,"nl":40,"nh":57,"l":42,"h":52,"pn":32.15,"po":31.4,"sn":50,"so":43},
{"d":"2023-10-19","rn":24,"rx":80,"nl":39,"nh":57,"l":40,"h":50,"pn":32.3,"po":31.4,"sn":50,"so":43},
{"d":"2023-10-20","rn":22,"rx":79,"nl":39,"nh":56,"l":42,"h":60,"pn":32.4,"po":31.7,"sn":50,"so":43},
{"d":"2023-10-21","rn":19,"rx":80,"nl":39,"nh":56,"l":36,"h":60,"pn":32.55,"po":31.7,"sn":50,"so":43},
{"d":"2023-10-22","rn":19,"rx":82,"nl":38,"nh":56,"l":32,"h":62,"pn":32.65,"po":31.7,"sn":50,"so":43},
{"d":"2023-10-23","rn":22,"rx":80,"nl":38,"nh":55,"l":40,"h":76,"pn":32.8,"po":31.7,"sn":50,"so":43},
{"d":"2023-10-24","rn":19,"rx":79,"nl":38,"nh":55,"l":46,"h":70,"pn":32.9,"po":31.7,"sn":50,"so":43},
{"d":"2023-10-25","rn":21,"rx":78,"nl":37,"nh":54,"l":44,"h":70,"pn":33.05,"po":31.7,"sn":50,"so":43},
{"d":"2023-10-26","rn":20,"rx":80,"nl":37,"nh":54,"l":46,"h":70,"pn":33.15,"po":31.7,"sn":50,"so":43},
{"d":"2023-10-27","rn":22,"rx":81,"nl":37,"nh":53,"l":36,"h":66,"pn":33.3,"po":33.1,"sn":50,"so":43},
{"d":"2023-10-28","rn":20,"rx":76,"nl":36,"nh":53,"l":38,"h":58,"pn":33.4,"po":33.1,"sn":50,"so":43},
{"d":"2023-10-29","rn":21,"rx":78,"nl":36,"nh":53,"l":34,"h":56,"pn":33.55,"po":33.1,"sn":50,"so":43},
{"d":"2023-10-30","rn":21,"rx":80,"nl":36,"nh":52,"l":26,"h":46,"pn":33.65,"po":33.1,"sn":50,"so":43},
{"d":"2023-10-31","rn":18,"rx":80,"nl":36,"nh":52,"l":24,"h":40,"pn":33.8,"po":33.1,"sn":50.3,"so":43},
{"d":"2023-11-01","rn":18,"rx":78,"nl":35,"nh":52,"l":38,"h":56,"pn":33.9,"po":33.1,"sn":50.5,"so":43},
{"d":"2023-11-02","rn":17,"rx":82,"nl":35,"nh":51,"l":40,"h":58,"pn":34,"po":33.1,"sn":50.6,"so":43},
{"d":"2023-11-03","rn":15,"rx":78,"nl":35,"nh":51,"l":36,"h":56,"pn":34.1,"po":33.1,"sn":50.7,"so":43},
{"d":"2023-11-04","rn":14,"rx":76,"nl":35,"nh":50,"l":36,"h":56,"pn":34.25,"po":33.1,"sn":50.8,"so":43},
{"d":"2023-11-05","rn":7,"rx":78,"nl":34,"nh":50,"l":34,"h":48,"pn":34.35,"po":33.1,"sn":50.9,"so":43},
{"d":"2023-11-06","rn":4,"rx":76,"nl":34,"nh":50,"l":34,"h":62,"pn":34.45,"po":33.1,"sn":51,"so":43},
{"d":"2023-11-07","rn":9,"rx":77,"nl":34,"nh":49,"l":38,"h":52,"pn":34.55,"po":33.1,"sn":51.1,"so":43},
{"d":"2023-11-08","rn":13,"rx":75,"nl":34,"nh":49,"l":36,"h":50,"pn":34.65,"po":33.8,"sn":51.3,"so":43},
{"d":"2023-11-09","rn":15,"rx":75,"nl":33,"nh":49,"l":32,"h":44,"pn":34.75,"po":33.8,"sn":51.5,"so":43},
{"d":"2023-11-10","rn":16,"rx":78,"nl":33,"nh":48,"l":31,"h":52,"pn":34.85,"po":33.8,"sn":51.7,"so":43},
{"d":"2023-11-11","rn":14,"rx":74,"nl":33,"nh":48,"l":38,"h":54,"pn":34.95,"po":33.8,"sn":51.9,"so":43},
{"d":"2023-11-12","rn":15,"rx":72,"nl":33,"nh":48,"l":36,"h":54,"pn":35.05,"po":33.8,"sn":52.1,"so":43},
{"d":"2023-11-13","rn":15,"rx":71,"nl":32,"nh":47,"l":34,"h":46,"pn":35.15,"po":33.8,"sn":52.3,"so":43},
{"d":"2023-11-14","rn":14,"rx":69,"nl":32,"nh":47,"l":36,"h":44,"pn":35.25,"po":33.8,"sn":52.5,"so":43},
{"d":"2023-11-15","rn":11,"rx":70,"nl":32,"nh":47,"l":36,"h":46,"pn":35.4,"po":33.8,"sn":52.8,"so":43},
{"d":"2023-11-16","rn":14,"rx":74,"nl":32,"nh":46,"l":34,"h":52,"pn":35.5,"po":33.8,"sn":53.1,"so":43},
{"d":"2023-11-17","rn":12,"rx":73,"nl":31,"nh":46,"l":32,"h":56,"pn":35.6,"po":33.8,"sn":53.4,"so":43},
{"d":"2023-11-18","rn":11,"rx":70,"nl":31,"nh":46,"l":38,"h":58,"pn":35.7,"po":33.8,"sn":53.8,"so":43},
{"d":"2023-11-19","rn":10,"rx":72,"nl":31,"nh":45,"l":34,"h":58,"pn":35.8,"po":33.8,"sn":54.1,"so":43},
{"d":"2023-11-20","rn":10,"rx":71,"nl":31,"nh":45,"l":34,"h":66,"pn":35.9,"po":33.8,"sn":54.5,"so":43},
{"d":"2023-11-21","rn":9,"rx":70,"nl":30,"nh":44,"l":34,"h":62,"pn":36,"po":34.7,"sn":54.8,"so":43},
{"d":"2023-11-22","rn":10,"rx":75,"nl":30,"nh":44,"l":36,"h":56,"pn":36.1,"po":34.7,"sn":55.2,"so":44},
{"d":"2023-11-23","rn":9,"rx":74,"nl":30,"nh":44,"l":34,"h":44,"pn":36.2,"po":34.7,"sn":55.6,"so":45},
{"d":"2023-11-24","rn":4,"rx":70,"nl":30,"nh":43,"l":30,"h":40,"pn":36.3,"po":34.7,"sn":56,"so":46},
{"d":"2023-11-25","rn":-9,"rx":72,"nl":30,"nh":43,"l":25,"h":42,"pn":36.4,"po":34.7,"sn":56.4,"so":46},
{"d":"2023-11-26","rn":-10,"rx":68,"nl":29,"nh":43,"l":20,"h":40,"pn":36.5,"po":34.7,"sn":56.8,"so":46},
{"d":"2023-11-27","rn":-10,"rx":69,"nl":29,"nh":42,"l":18,"h":46,"pn":36.6,"po":34.7,"sn":57.2,"so":46},
{"d":"2023-11-28","rn":4,"rx":69,"nl":29,"nh":42,"l":25,"h":38,"pn":36.7,"po":34.7,"sn":57.7,"so":46},
{"d":"2023-11-29","rn":6,"rx":68,"nl":28,"nh":41,"l":18,"h":40,"pn":36.8,"po":34.7,"sn":58.1,"so":46},
{"d":"2023-11-30","rn":6,"rx":68,"nl":28,"nh":41,"l":25,"h":51,"pn":36.9,"po":34.7,"sn":58.6,"so":46},
{"d":"2023-12-01","rn":6,"rx":69,"nl":28,"nh":40,"l":32,"h":40,"pn":37,"po":35.5,"sn":59,"so":46},
{"d":"2023-12-02","rn":-11,"rx":66,"nl":28,"nh":40,"l":34,"h":38,"pn":37.1,"po":35.5,"sn":59.5,"so":46},
{"d":"2023-12-03","rn":-10,"rx":67,"nl":28,"nh":40,"l":32,"h":38,"pn":37.2,"po":35.5,"sn":60,"so":46},
{"d":"2023-12-04","rn":0,"rx":63,"nl":27,"nh":39,"l":32,"h":39,"pn":37.25,"po":35.5,"sn":60.5,"so":46},
{"d":"2023-12-05","rn":4,"rx":66,"nl":27,"nh":39,"l":34,"h":40,"pn":37.35,"po":35.5,"sn":61,"so":46},
{"d":"2023-12-06","rn":7,"rx":66,"nl":27,"nh":39,"l":34,"h":44,"pn":37.45,"po":35.5,"sn":61.5,"so":46},
{"d":"2023-12-07","rn":-2,"rx":66,"nl":27,"nh":38,"l":34,"h":50,"pn":37.5,"po":35.5,"sn":62,"so":46},
{"d":"2023-12-08","rn":-1,"rx":69,"nl":26,"nh":38,"l":34,"h":58,"pn":37.6,"po":35.5,"sn":62.6,"so":46},
{"d":"2023-12-09","rn":3,"rx":63,"nl":26,"nh":38,"l":38,"h":46,"pn":37.7,"po":35.5,"sn":63.2,"so":46},
{"d":"2023-12-10","rn":0,"rx":61,"nl":26,"nh":37,"l":32,"h":38,"pn":37.75,"po":35.5,"sn":63.8,"so":46},
{"d":"2023-12-11","rn":2,"rx":63,"nl":26,"nh":37,"l":30,"h":38,"pn":37.85,"po":35.5,"sn":64.4,"so":46},
{"d":"2023-12-12","rn":-3,"rx":60,"nl":26,"nh":37,"l":30,"h":36,"pn":37.9,"po":35.5,"sn":65,"so":46},
{"d":"2023-12-13","rn":-4,"rx":62,"nl":25,"nh":36,"l":28,"h":38,"pn":38,"po":35.5,"sn":65.6,"so":46},
{"d":"2023-12-14","rn":-5,"rx":60,"nl":25,"nh":36,"l":22,"h":44,"pn":38.05,"po":35.5,"sn":66.2,"so":46},
{"d":"2023-12-15","rn":-4,"rx":62,"nl":25,"nh":36,"l":26,"h":50,"pn":38.15,"po":35.5,"sn":66.8,"so":46},
{"d":"2023-12-16","rn":-5,"rx":60,"nl":25,"nh":36,"l":30,"h":53,"pn":38.25,"po":35.5,"sn":67.4,"so":46},
{"d":"2023-12-17","rn":-18,"rx":55,"nl":24,"nh":36,"l":34,"h":53,"pn":38.3,"po":36,"sn":68,"so":46},
{"d":"2023-12-18","rn":-9,"rx":56,"nl":24,"nh":35,"l":34,"h":46,"pn":38.4,"po":36,"sn":68.6,"so":46},
{"d":"2023-12-19","rn":-4,"rx":56,"nl":24,"nh":35,"l":32,"h":36,"pn":38.5,"po":36,"sn":69.3,"so":46},
{"d":"2023-12-20","rn":-7,"rx":59,"nl":24,"nh":35,"l":26,"h":35,"pn":38.55,"po":36,"sn":70,"so":46},
{"d":"2023-12-21","rn":-10,"rx":59,"nl":24,"nh":35,"l":26,"h":36,"pn":38.65,"po":36,"sn":70.7,"so":46},
{"d":"2023-12-22","rn":-5,"rx":56,"nl":23,"nh":34,"l":28,"h":38,"pn":38.7,"po":36.4,"sn":71.4,"so":46},
{"d":"2023-12-23","rn":-11,"rx":59,"nl":23,"nh":34,"l":30,"h":40,"pn":38.8,"po":36.4,"sn":72.1,"so":46},
{"d":"2023-12-24","rn":-10,"rx":63,"nl":23,"nh":34,"l":34,"h":44,"pn":38.85,"po":36.4,"sn":72.8,"so":46},
{"d":"2023-12-25","rn":-7,"rx":60,"nl":23,"nh":34,"l":38,"h":48,"pn":38.95,"po":36.4,"sn":73.5,"so":46},
{"d":"2023-12-26","rn":-2,"rx":64,"nl":22,"nh":33,"l":38,"h":52,"pn":39,"po":36.4,"sn":74.2,"so":46},
{"d":"2023-12-27","rn":-11,"rx":66,"nl":22,"nh":33,"l":32,"h":54,"pn":39.1,"po":36.4,"sn":75,"so":46.1},
{"d":"2023-12-28","rn":-8,"rx":63,"nl":22,"nh":33,"l":30,"h":50,"pn":39.2,"po":36.74,"sn":75.8,"so":46.2},
{"d":"2023-12-29","rn":-11,"rx":66,"nl":22,"nh":33,"l":32,"h":44,"pn":39.3,"po":36.74,"sn":76.6,"so":46.2},
{"d":"2023-12-30","rn":-9,"rx":66,"nl":21,"nh":32,"l":24,"h":44,"pn":39.4,"po":36.74,"sn":77.3,"so":46.3},
{"d":"2023-12-31","rn":-14,"rx":60,"nl":21,"nh":32,"l":33,"h":38,"pn":39.5,"po":36.74,"sn":78,"so":46.3}
]},
"vconcat":[
{"width":730,"height":300,"data":{"name":"daily"},
"title":{"text":"GRAND RAPIDS ASOS, MI - 2023","fontSize":19.3,"font":"DejaVu Sans","fontWeight":"normal","color":"black","anchor":"middle","offset":0},
"encoding":{"x":{"field":"d","type":"temporal","timeUnit":"utcyearmonthdate","title":null,"scale":{"type":"utc","domain":[{"year":2023,"month":1,"date":1,"utc":true},{"year":2023,"month":12,"date":31,"hours":23,"minutes":59,"utc":true}]},"axis":{"tickCount":"month","labels":false,"ticks":false,"domain":false,"grid":true,"gridColor":"#999999","gridDash":[4,3],"zindex":1}}},
"resolve":{"axis":{"y":"independent"}},
"layer":[
{"mark":{"type":"bar","binSpacing":0,"width":{"band":1},"color":"#CCCCFF"},"encoding":{"y":{"field":"rn","type":"quantitative","title":"Temperature (Deg F)","scale":{"domain":[-30,120],"nice":false},"axis":{"values":[-30,-10,10,30,50,70,90,110],"labelExpr":"datum.value+''","ticks":false,"domain":false,"grid":true,"gridColor":"#999999","gridDash":[4,3],"labelFontSize":12,"labelColor":"black","labelPadding":7,"titleFontSize":16.3,"titleFontWeight":"normal","titleColor":"black","titleX":-28,"zindex":1}},"y2":{"field":"nl"}}},
{"mark":{"type":"bar","binSpacing":0,"width":{"band":1},"color":"#CCFFCC"},"encoding":{"y":{"field":"nl","type":"quantitative","scale":{"domain":[-30,120],"nice":false},"axis":{"orient":"right","values":[-30,-10,10,30,50,70,90,110],"labelExpr":"datum.value+''","ticks":false,"domain":false,"grid":false,"labelFontSize":12,"labelColor":"black","labelPadding":5,"title":null,"zindex":1}},"y2":{"field":"nh"}}},
{"mark":{"type":"bar","binSpacing":0,"width":{"band":1},"color":"#FFCCCC"},"encoding":{"y":{"field":"nh","type":"quantitative","axis":null},"y2":{"field":"rx"}}},
{"mark":{"type":"bar","binSpacing":0,"width":{"band":1},"color":"#000066"},"encoding":{"y":{"field":"l","type":"quantitative","axis":null},"y2":{"field":"h"}}},
{"data":{"values":[{"d":"2023-01-12","t":108.7}]},"mark":{"type":"point","shape":"circle","filled":true,"fill":"white","stroke":"#b8b2dc","strokeWidth":2,"size":1300,"opacity":1},"encoding":{"y":{"field":"t","type":"quantitative","axis":null}}},
{"data":{"values":[{"d":"2023-01-12","t":108.7}]},"mark":{"type":"point","shape":"circle","filled":true,"color":"#2f1296","size":1050,"opacity":1},"encoding":{"y":{"field":"t","type":"quantitative","axis":null}}},
{"data":{"values":[{"d":"2023-01-12","t":108.7}]},"mark":{"type":"point","shape":"M-0.98,-0.05 C-0.6,0.3 -0.2,0.55 0.1,0.6 C0.5,0.55 0.8,0.2 0.98,-0.1 A1,1 0 0 1 -0.98,-0.05Z","filled":true,"color":"#6a52b8","size":1050,"opacity":1},"encoding":{"y":{"field":"t","type":"quantitative","axis":null}}},
{"data":{"values":[{"d":"2023-01-12","t":108.7}]},"mark":{"type":"point","shape":"M-0.95,-0.35 C-0.6,-0.05 -0.2,0.15 0.05,0.25 C0.4,0.15 0.7,-0.1 0.95,-0.4 C0.8,0.1 0.45,0.55 0.1,0.6 C-0.3,0.55 -0.8,0.25 -0.98,-0.05Z","filled":true,"color":"white","size":1050,"opacity":1},"encoding":{"y":{"field":"t","type":"quantitative","axis":null}}},
{"data":{"values":[{"d":"2023-01-12","t":108.7,"s":"NOAA"}]},"mark":{"type":"text","color":"white","fontSize":7,"fontWeight":"bold","dy":-6,"font":"DejaVu Sans"},"encoding":{"y":{"field":"t","type":"quantitative","axis":null},"text":{"field":"s"}}}
]},
{"width":730,"height":250,"data":{"name":"daily"},
"encoding":{"x":{"field":"d","type":"temporal","timeUnit":"utcyearmonthdate","title":null,"scale":{"type":"utc","domain":[{"year":2023,"month":1,"date":1,"utc":true},{"year":2023,"month":12,"date":31,"hours":23,"minutes":59,"utc":true}]},"axis":{"tickCount":"month","labels":false,"ticks":false,"domain":false,"grid":true,"gridColor":"#999999","gridDash":[4,3],"zindex":1}}},
"resolve":{"axis":{"y":"independent"}},
"layer":[
{"mark":{"type":"bar","binSpacing":0,"width":{"band":1},"color":"#80FF80"},"encoding":{"y":{"field":"po","type":"quantitative","title":"Precipitation (Inches)","scale":{"domain":[0,40],"nice":false},"axis":{"values":[4,8,12,16,20,24,28,32,36],"ticks":false,"domain":false,"grid":true,"gridColor":"#999999","gridDash":[4,3],"labelFontSize":12,"labelColor":"black","labelPadding":7,"titleFontSize":16.3,"titleFontWeight":"normal","titleColor":"black","titleX":-28,"zindex":1}}}},
{"mark":{"type":"bar","binSpacing":0,"width":{"band":1}},"encoding":{"y":{"field":"pn","type":"quantitative","scale":{"domain":[0,40],"nice":false},"axis":{"orient":"right","values":[4,8,12,16,20,24,28,32,36],"ticks":false,"domain":false,"grid":false,"labelFontSize":12,"labelColor":"black","labelPadding":5,"title":null,"zindex":1}},"y2":{"field":"po"},"color":{"condition":{"test":"datum.po > datum.pn","value":"#006600"},"value":"#ADA94D"}}},
{"data":{"values":[{"d":"2023-12-13","v":38.1,"s":"36.74"}]},"mark":{"type":"text","color":"black","fontSize":16,"font":"DejaVu Sans"},"encoding":{"y":{"field":"v","type":"quantitative","axis":null},"text":{"field":"s"}}}
]},
{"width":730,"height":100,"data":{"name":"daily"},
"encoding":{"x":{"field":"d","type":"temporal","timeUnit":"utcyearmonthdate","title":null,"scale":{"type":"utc","domain":[{"year":2023,"month":1,"date":1,"utc":true},{"year":2023,"month":12,"date":31,"hours":23,"minutes":59,"utc":true}]},"axis":{"tickCount":"month","labelExpr":"utcFormat(datum.value,'%b')","labelOverlap":false,"labelFlush":false,"labelAlign":"left","labelFontSize":13,"labelColor":"black","labelPadding":2,"ticks":false,"domain":false,"grid":true,"gridColor":"#999999","gridDash":[4,3],"zindex":1}}},
"resolve":{"axis":{"y":"independent"},"scale":{"color":"independent"}},
"layer":[
{"mark":{"type":"bar","binSpacing":0,"width":{"band":1},"color":"#80FF80"},"encoding":{"y":{"field":"so","type":"quantitative","title":"Snow (inches)","scale":{"domain":[0,80],"nice":false},"axis":{"values":[20,40,60],"ticks":false,"domain":false,"grid":true,"gridColor":"#999999","gridDash":[4,3],"labelFontSize":12,"labelColor":"black","labelPadding":7,"titleFontSize":16.3,"titleFontWeight":"normal","titleColor":"black","titleX":-28,"zindex":1}}}},
{"mark":{"type":"bar","binSpacing":0,"width":{"band":1},"color":"#ADA94D"},"encoding":{"y":{"field":"sn","type":"quantitative","scale":{"domain":[0,80],"nice":false},"axis":{"orient":"right","values":[20,40,60],"ticks":false,"domain":false,"grid":false,"labelFontSize":12,"labelColor":"black","labelPadding":5,"title":null,"zindex":1}},"y2":{"field":"so"}}},
{"data":{"values":[{"d":"2023-12-13","v":53,"s":"46.3"}]},"mark":{"type":"text","color":"black","fontSize":16,"font":"DejaVu Sans"},"encoding":{"y":{"field":"v","type":"quantitative","axis":null},"text":{"field":"s"}}},
{"data":{"values":[{"k":"Record Min"},{"k":"Record Max"},{"k":"Normal"},{"k":"Below Normal"},{"k":"Above Normal"}]},"mark":{"type":"point","filled":true,"opacity":0},"encoding":{"x":{"datum":0,"type":"quantitative","scale":null,"axis":null},"color":{"field":"k","type":"nominal","scale":{"domain":["Record Min","Record Max","Normal","Below Normal","Above Normal"],"range":["#CCCCFF","#FFCCCC","#CCFFCC","#ADA94D","#006600"]},"legend":{"title":null,"orient":"none","legendX":0,"legendY":108,"direction":"horizontal","columns":5,"gridAlign":"all","columnPadding":15,"symbolType":"M-1,-0.15H1V0.15H-1Z","symbolSize":1681,"symbolOpacity":1,"symbolStrokeWidth":0,"labelFontSize":13,"labelColor":"black","labelOffset":2,"labelFont":"DejaVu Sans"}}}}
]}
]}
